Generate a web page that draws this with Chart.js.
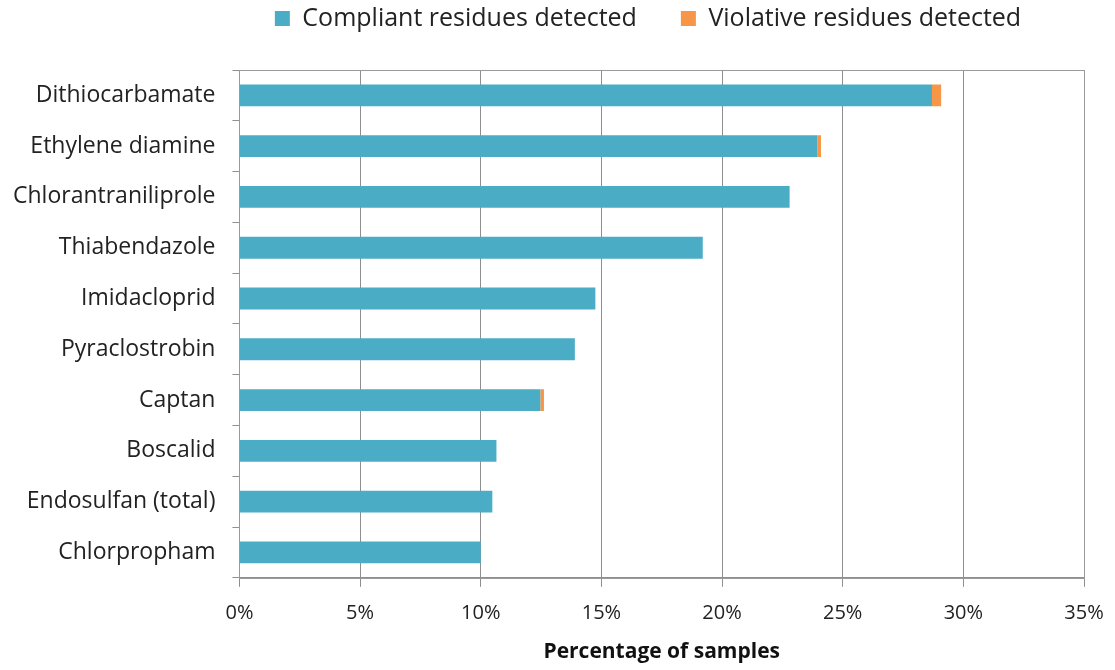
<!DOCTYPE html>
<html>
<head>
<meta charset="utf-8">
<script src="https://cdn.jsdelivr.net/npm/chart.js@4.4.1/dist/chart.umd.min.js"></script>
<style>
  html, body { margin: 0; padding: 0; background: #fff; }
  #wrap { width: 1115px; height: 670px; }
</style>
</head>
<body>
<div id="wrap"><canvas id="chart"></canvas></div>
<script>
// pesticide names, top to bottom
const categories = ['Dithiocarbamate', 'Ethylene diamine', 'Chlorantraniliprole', 'Thiabendazole',
  'Imidacloprid', 'Pyraclostrobin', 'Captan', 'Boscalid', 'Endosulfan (total)', 'Chlorpropham'];
// percentage of samples
const compliant = [28.7, 23.95, 22.8, 19.2, 14.75, 13.9, 12.47, 10.65, 10.48, 10.0];
const violative = [0.38, 0.15, 0, 0, 0, 0, 0.15, 0, 0, 0];
const xTicks = [0, 5, 10, 15, 20, 25, 30, 35];

const FONT = "'Open Sans', 'Noto Sans', sans-serif";

// gray frame around the plot area
const framePlugin = {
  id: 'frame',
  afterDraw(chart) {
    const a = chart.chartArea, ctx = chart.ctx;
    ctx.save();
    ctx.strokeStyle = '#9a9a9a';
    ctx.lineWidth = 1;
    ctx.strokeRect(Math.round(a.left) + 0.5, Math.round(a.top) + 0.5,
      Math.round(a.right - a.left), Math.round(a.bottom - a.top));
    ctx.restore();
  }
};

// extra gap between legend and plot, legend sits over the plot
const legendGap = {
  id: 'legendGap',
  beforeInit(chart) {
    const fit = chart.legend.fit;
    chart.legend.fit = function () {
      fit.bind(chart.legend)();
      this.height += 29;
    };
  },
  afterLayout(chart) {
    chart.legend.left += 216;
  }
};

new Chart(document.getElementById('chart'), {
  type: 'bar',
  data: {
    labels: categories,
    datasets: [
      { label: 'Compliant residues detected', data: compliant, backgroundColor: '#4BACC6',
        barPercentage: 0.43, categoryPercentage: 1 },
      { label: 'Violative residues detected', data: violative, backgroundColor: '#F79646',
        barPercentage: 0.43, categoryPercentage: 1 }
    ]
  },
  options: {
    indexAxis: 'y',
    responsive: true,
    maintainAspectRatio: false,
    animation: false,
    layout: { padding: { left: -4, right: 31, top: -38, bottom: 5 } },
    plugins: {
      legend: {
        position: 'top',
        labels: {
          font: { family: FONT, size: 25 },
          color: '#222',
          boxWidth: 15, boxHeight: 15,
          padding: 44
        }
      },
      tooltip: { enabled: false }
    },
    scales: {
      x: {
        stacked: true,
        min: 0, max: 35,
        afterBuildTicks(axis) { axis.ticks = xTicks.map(v => ({ value: v })); },
        afterFit(axis) { axis.paddingRight = 0; },
        ticks: {
          callback: v => v + '%',
          font: { family: FONT, size: 20 },
          color: '#222',
          padding: 14
        },
        grid: { color: '#8f8f8f', tickLength: 9, tickColor: '#8f8f8f' },
        border: { color: '#8f8f8f' },
        title: {
          display: true, text: 'Percentage of samples',
          font: { family: FONT, size: 21, weight: 'bold' },
          color: '#111', padding: { top: 1, bottom: 0 }
        }
      },
      y: {
        stacked: true,
        ticks: {
          font: { family: FONT, size: 23 },
          color: '#222',
          padding: 17
        },
        grid: { offset: true, drawOnChartArea: false, tickLength: 7, color: '#8f8f8f' },
        border: { color: '#8f8f8f' }
      }
    }
  },
  plugins: [framePlugin, legendGap]
});
</script>
</body>
</html>
